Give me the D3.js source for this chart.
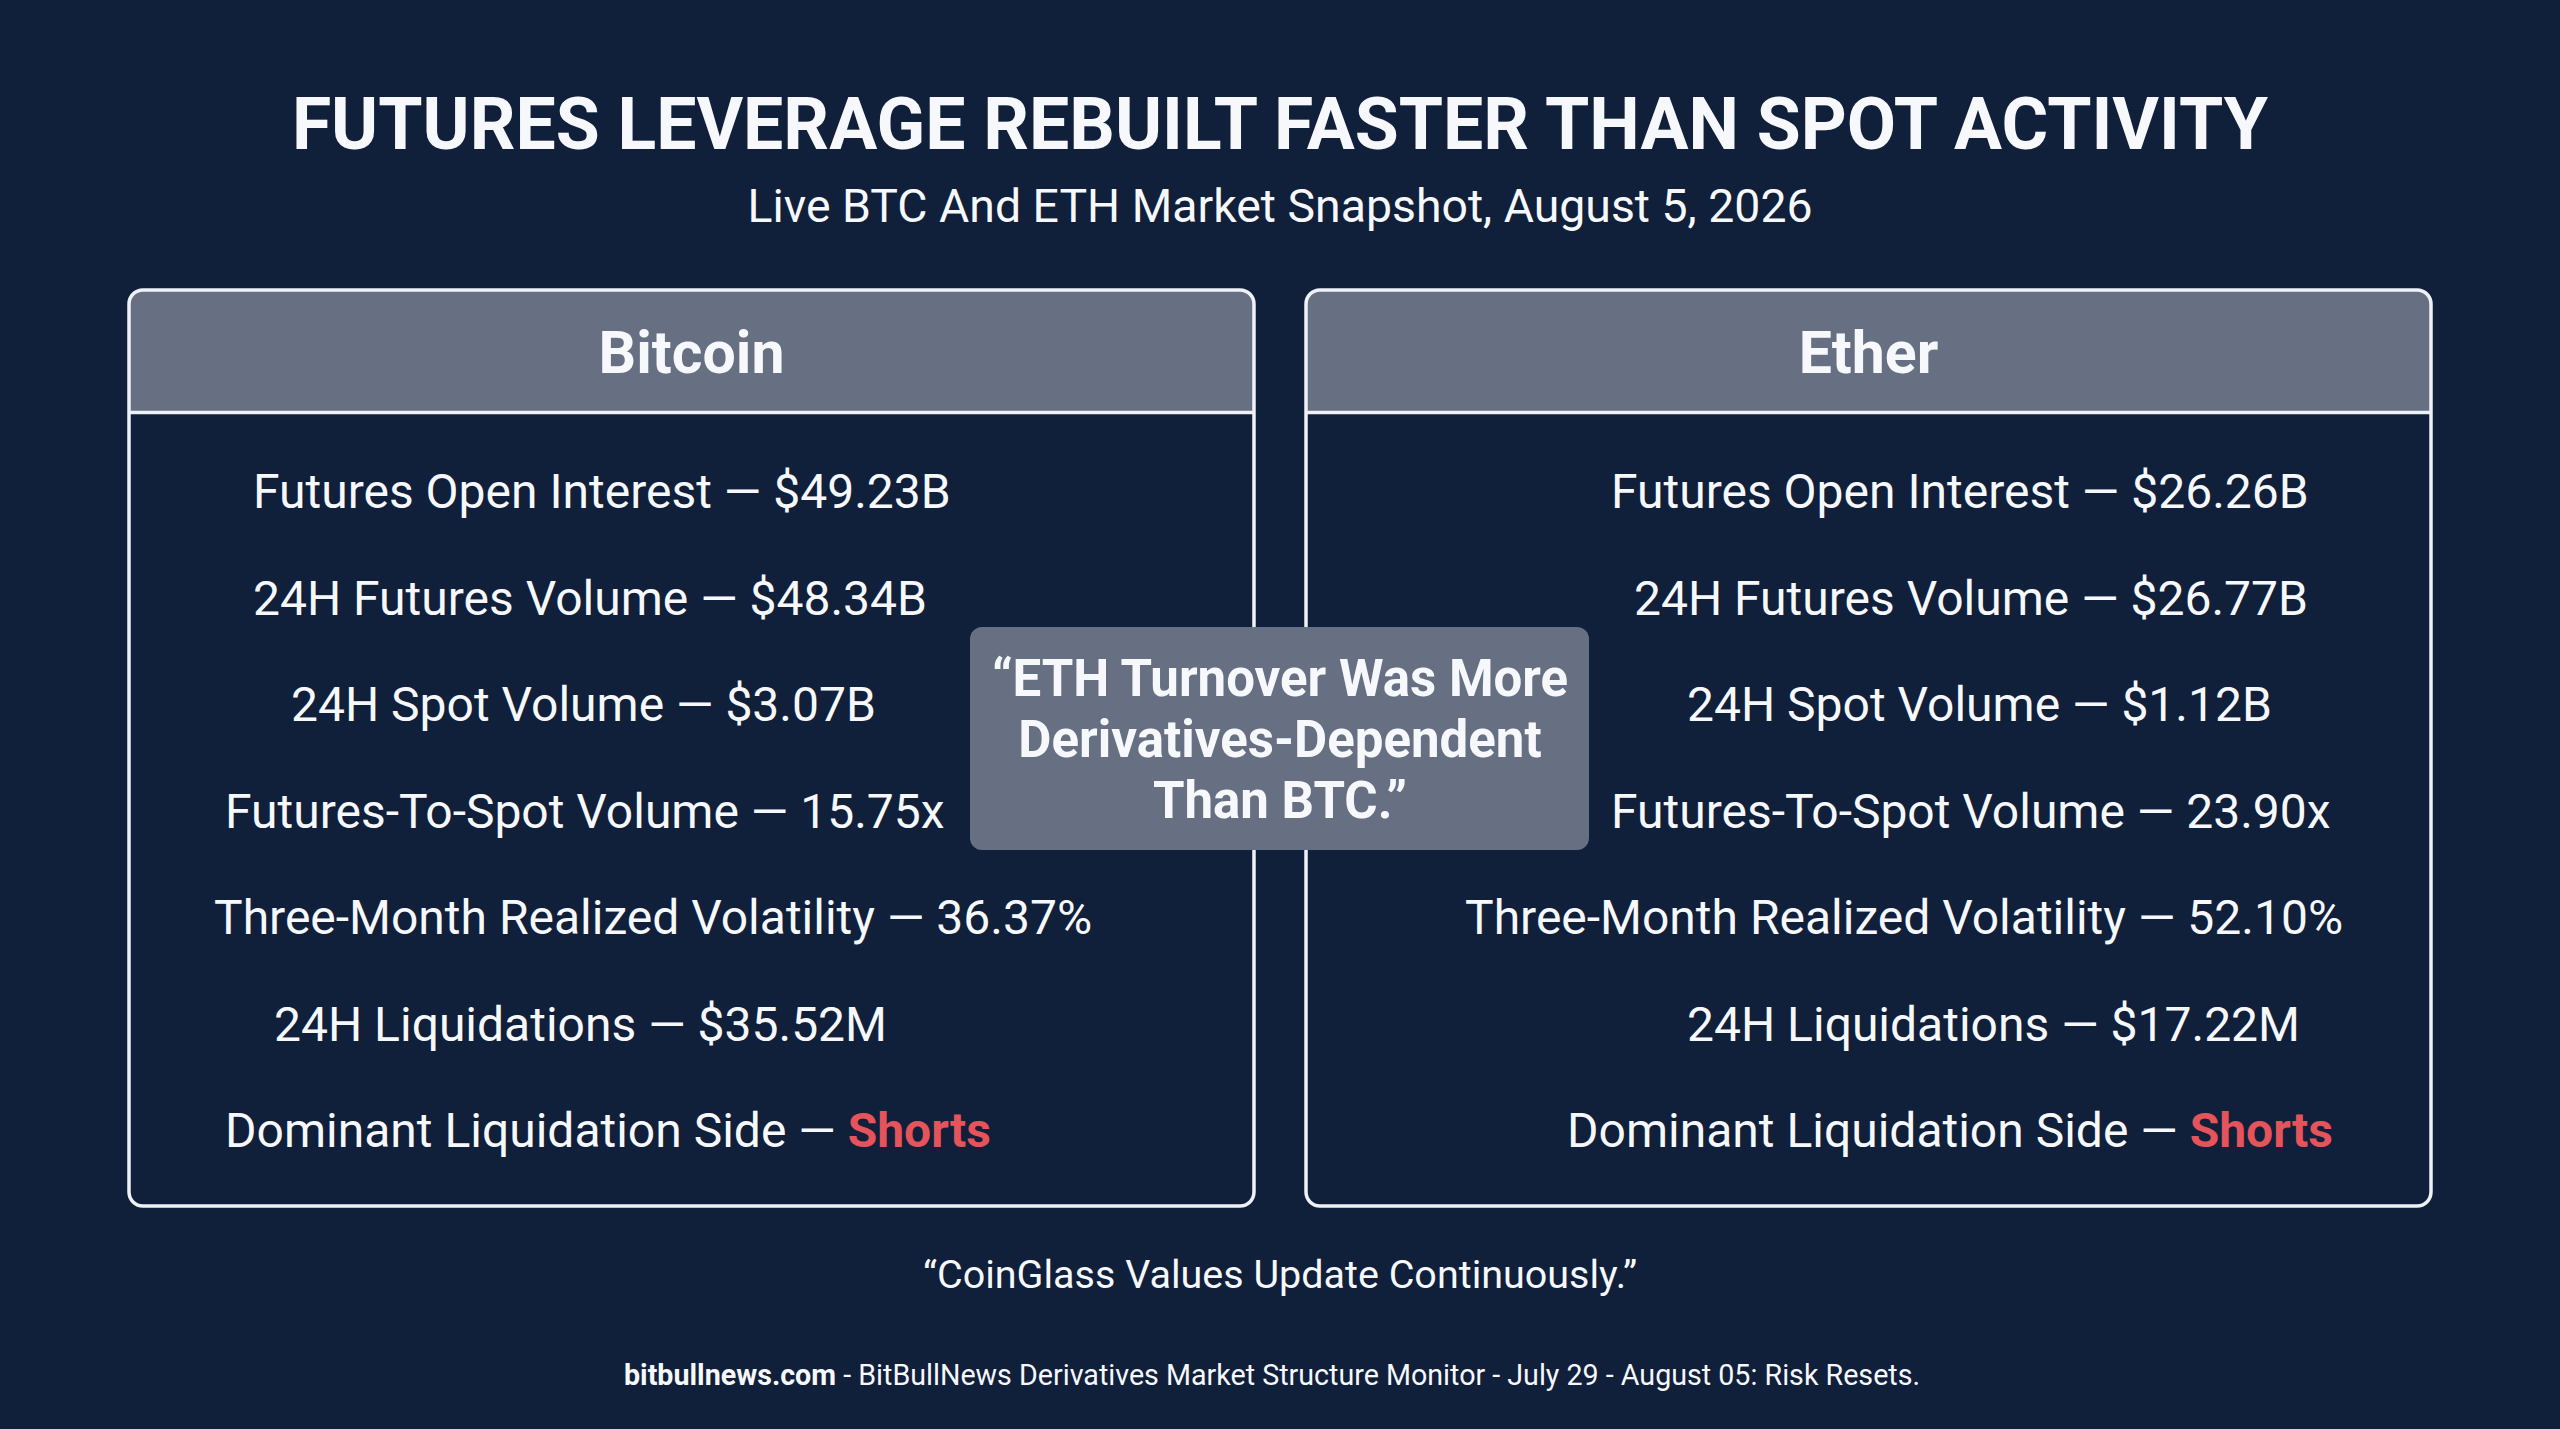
<!DOCTYPE html>
<html>
<head>
<meta charset="utf-8">
<script src="https://cdn.jsdelivr.net/npm/d3@7"></script>
<style>
  html, body { margin: 0; padding: 0; background: #101f3a; }
  svg { display: block; }
  text { font-family: Roboto, sans-serif; fill: #f6f8fb; }
</style>
</head>
<body>
<svg id="chart"></svg>
<script>
const titleText = "FUTURES LEVERAGE REBUILT FASTER THAN SPOT ACTIVITY"
const subtitleText = "Live BTC And ETH Market Snapshot, August 5, 2026"
const assets = ["Bitcoin", "Ether"]
const metrics = [
    "Futures Open Interest",
    "24H Futures Volume",
    "24H Spot Volume",
    "Futures-To-Spot Volume",
    "Three-Month Realized Volatility",
    "24H Liquidations",
    "Dominant Liquidation Side"
]
const btcValues = ["$49.23B", "$48.34B", "$3.07B", "15.75x", "36.37%", "$35.52M", "Shorts"]
const ethValues = ["$26.26B", "$26.77B", "$1.12B", "23.90x", "52.10%", "$17.22M", "Shorts"]
const quoteLines = ["\u201CETH Turnover Was More", "Derivatives-Dependent", "Than BTC.\u201D"]
const noteText = "\u201CCoinGlass Values Update Continuously.\u201D"
const footerSite = "bitbullnews.com"
const footerRest = " - BitBullNews Derivatives Market Structure Monitor - July 29 - August 05: Risk Resets."

// where each row starts, the rows are not centred in the source
const btcRowStart = [253, 253, 291, 225, 214, 274, 225]
const ethRowStart = [1611, 1634, 1687, 1611, 1465, 1687, 1567]

const width = 2560, height = 1429
const svg = d3.select("#chart").attr("width", width).attr("height", height)

svg.append("rect").attr("width", width).attr("height", height).attr("fill", "#101f3a")

const panelX = d3.scaleBand().domain(assets).range([129, 2431]).paddingInner(0.0442)
const rowY = d3.scalePoint().domain(metrics).range([491, 1130])

const panelTop = 290, panelBottom = 1206, headerBottom = 412.5
const columns = [
    {asset: assets[0], values: btcValues, starts: btcRowStart},
    {asset: assets[1], values: ethValues, starts: ethRowStart}
]

// title block
svg.append("text").attr("x", width / 2).attr("y", 149).attr("text-anchor", "middle")
    .style("font-size", "71.5px").style("font-weight", 700).text(titleText)
svg.append("text").attr("x", 1280).attr("y", 222).attr("text-anchor", "middle")
    .style("font-size", "46.4px").text(subtitleText)

const panel = svg.selectAll("g.panel").data(columns).enter().append("g").attr("class", "panel")

// header is a rect with only the top corners round
panel.append("path")
    .attr("d", d => {
        const x0 = panelX(d.asset), x1 = x0 + panelX.bandwidth(), r = 14
        return `M${x0},${headerBottom}V${panelTop + r}Q${x0},${panelTop} ${x0 + r},${panelTop}`
            + `H${x1 - r}Q${x1},${panelTop} ${x1},${panelTop + r}V${headerBottom}Z`
    })
    .attr("fill", "#667082")

panel.append("rect")
    .attr("x", d => panelX(d.asset))
    .attr("y", panelTop)
    .attr("width", panelX.bandwidth())
    .attr("height", panelBottom - panelTop)
    .attr("rx", 14)
    .attr("fill", "none")
    .attr("stroke", "#eef2f6")
    .attr("stroke-width", 3.5)

panel.append("line")
    .attr("x1", d => panelX(d.asset))
    .attr("x2", d => panelX(d.asset) + panelX.bandwidth())
    .attr("y1", headerBottom)
    .attr("y2", headerBottom)
    .attr("stroke", "#eef2f6")
    .attr("stroke-width", 3.5)

panel.append("text")
    .attr("x", d => panelX(d.asset) + panelX.bandwidth() / 2)
    .attr("y", 373)
    .attr("text-anchor", "middle")
    .style("font-size", "59px")
    .style("font-weight", 700)
    .text(d => d.asset)

const row = panel.selectAll("text.row")
    .data(d => metrics.map((m, i) => ({metric: m, value: d.values[i], start: d.starts[i]})))
    .enter().append("text")
    .attr("class", "row")
    .attr("x", d => d.start)
    .attr("y", d => rowY(d.metric) + 17)
    .style("font-size", "48px")

row.append("tspan").text(d => `${d.metric} \u2014 `)
row.append("tspan")
    .text(d => d.value)
    .style("fill", d => d.value == "Shorts" ? "#e5535b" : null)
    .style("font-weight", d => d.value == "Shorts" ? 700 : null)

// callout sits on top of both panels
svg.append("rect")
    .attr("x", 970).attr("y", 627).attr("width", 619).attr("height", 223)
    .attr("rx", 12).attr("fill", "#667082")

const quoteY = d3.scalePoint().domain(quoteLines).range([696, 818])
svg.selectAll("text.quote").data(quoteLines).enter().append("text")
    .attr("class", "quote")
    .attr("x", 1280)
    .attr("y", d => quoteY(d))
    .attr("text-anchor", "middle")
    .style("font-size", "51px")
    .style("font-weight", 700)
    .text(d => d)

svg.append("text").attr("x", 1280).attr("y", 1288).attr("text-anchor", "middle")
    .style("font-size", "39.5px").text(noteText)

const footer = svg.append("text").attr("x", 1272).attr("y", 1385).attr("text-anchor", "middle")
    .style("font-size", "28.65px")
footer.append("tspan").style("font-weight", 700).text(footerSite)
footer.append("tspan").text(footerRest)
</script>
</body>
</html>
